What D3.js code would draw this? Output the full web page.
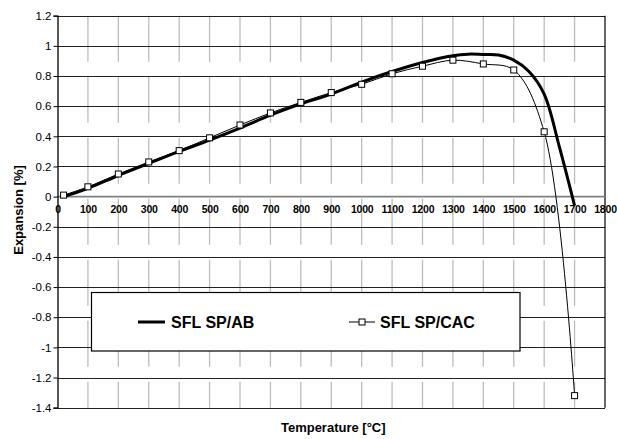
<!DOCTYPE html>
<html><head><meta charset="utf-8">
<script src="https://cdn.jsdelivr.net/npm/d3@7"></script>
<style>body{margin:0;background:#fff} svg{display:block;font-family:"Liberation Sans",Arial,sans-serif}</style>
</head><body><svg id="c" width="617" height="439"></svg>
<script>
const temperaturesAB = [20,100,200,300,400,500,600,700,800,900,1000,1100,1200,1300,1350,1400,1450,1500,1550,1600,1650,1700];
const expansionAB    = [0.0,0.055,0.14,0.22,0.30,0.375,0.455,0.54,0.615,0.68,0.76,0.83,0.89,0.935,0.945,0.943,0.94,0.905,0.83,0.68,0.33,-0.06];
const temperaturesCAC = [20,100,200,300,400,500,600,700,800,900,1000,1100,1200,1300,1400,1500,1600,1700];
const expansionCAC    = [0.01,0.065,0.15,0.23,0.305,0.39,0.475,0.555,0.625,0.69,0.745,0.815,0.865,0.905,0.88,0.84,0.43,-1.32];
const xTickValues = [0,100,200,300,400,500,600,700,800,900,1000,1100,1200,1300,1400,1500,1600,1700,1800];
const yTickValues = [1.2,1,0.8,0.6,0.4,0.2,0,-0.2,-0.4,-0.6,-0.8,-1,-1.2,-1.4];
const seriesNames = ["SFL SP/AB","SFL SP/CAC"];
const xTitle = "Temperature [°C]";
const yTitle = "Expansion [%]";

const FONT = "'Liberation Sans', Arial, sans-serif";
const svg = d3.select("#c");
const L = 57.5, R = 605, T = 15.7, B = 407.7;
const x = d3.scaleLinear().domain([0,1800]).range([L,R]);
const y = d3.scaleLinear().domain([-1.4,1.2]).range([B,T]);

// vertical dashed gridlines
svg.append("g").selectAll("line").data(xTickValues.filter(d=>d>0&&d<1800)).join("line")
  .attr("x1",d=>x(d)).attr("x2",d=>x(d)).attr("y1",T).attr("y2",B)
  .attr("stroke","#bdbdbd").attr("stroke-width",1.3).attr("stroke-dasharray","46,15");

// horizontal gridlines
svg.append("g").selectAll("line").data(yTickValues.filter(d=>d!==0)).join("line")
  .attr("x1",L).attr("x2",R).attr("y1",d=>Math.round(y(d))+0.5).attr("y2",d=>Math.round(y(d))+0.5)
  .attr("stroke","#222").attr("stroke-width",1);

// right border
svg.append("line").attr("x1",R).attr("x2",R).attr("y1",T).attr("y2",B).attr("stroke","#000").attr("stroke-width",1.2);

// zero line (x axis)
svg.append("line").attr("x1",L).attr("x2",R).attr("y1",y(0)).attr("y2",y(0))
  .attr("stroke","#808080").attr("stroke-width",1.6);

// y axis
const yAxis = d3.axisLeft(y).tickValues(yTickValues).tickSize(4).tickPadding(2)
  .tickFormat(d=>String(+d.toFixed(1)));
const gy = svg.append("g").attr("transform",`translate(${L},0)`).call(yAxis);
gy.select(".domain").attr("stroke","#000").attr("stroke-width",1.3);
gy.selectAll(".tick line").attr("stroke","#000");
gy.selectAll("text").attr("font-size","11.5px").attr("fill","#000").attr("font-family",FONT);

// x tick labels along zero line
const xAxis = d3.axisBottom(x).tickValues(xTickValues).tickSize(0).tickPadding(9).tickFormat(d3.format("d"));
const gx = svg.append("g").attr("transform",`translate(0,${y(0)})`).call(xAxis);
gx.select(".domain").remove();
gx.selectAll("text").attr("font-size","10.5px").attr("font-weight","bold").attr("fill","#000")
  .attr("font-family",FONT).attr("letter-spacing","-0.2px");

// series
const dataAB = temperaturesAB.map((t,i)=>[t,expansionAB[i]]);
const dataCAC = temperaturesCAC.map((t,i)=>[t,expansionCAC[i]]);
const line = d3.line().x(d=>x(d[0])).y(d=>y(d[1])).curve(d3.curveCatmullRom.alpha(0.5));

svg.append("path").datum(dataCAC).attr("d",line).attr("fill","none").attr("stroke","#000").attr("stroke-width",1);
svg.append("path").datum(dataAB).attr("d",line).attr("fill","none").attr("stroke","#000").attr("stroke-width",3);
svg.append("g").selectAll("rect").data(dataCAC).join("rect")
  .attr("x",d=>x(d[0])-3).attr("y",d=>y(d[1])-3).attr("width",6).attr("height",6)
  .attr("fill","#fff").attr("stroke","#000").attr("stroke-width",1);

// axis titles
svg.append("text").attr("x",(L+R)/2+2).attr("y",432).attr("text-anchor","middle").attr("font-family",FONT)
  .attr("font-size","13px").attr("font-weight","bold").text(xTitle);
svg.append("text").attr("transform","translate(23,210) rotate(-90)").attr("text-anchor","middle").attr("font-family",FONT)
  .attr("font-size","13px").attr("font-weight","bold").text(yTitle);

// legend
const lg = svg.append("g");
lg.append("rect").attr("x",91.5).attr("y",292.5).attr("width",428.5).attr("height",58.5)
  .attr("fill","#fff").attr("stroke","#000").attr("stroke-width",1.2);
lg.append("line").attr("x1",138).attr("x2",165).attr("y1",322).attr("y2",322).attr("stroke","#000").attr("stroke-width",3);
lg.append("text").attr("x",171).attr("y",327.5).attr("font-family",FONT).attr("font-size","16px").attr("font-weight","bold").text(seriesNames[0]);
lg.append("line").attr("x1",349).attr("x2",375).attr("y1",322).attr("y2",322).attr("stroke","#000").attr("stroke-width",1);
lg.append("rect").attr("x",359).attr("y",319).attr("width",6).attr("height",6).attr("fill","#fff").attr("stroke","#000");
lg.append("text").attr("x",380).attr("y",327.5).attr("font-family",FONT).attr("font-size","16px").attr("font-weight","bold").text(seriesNames[1]);
</script></body></html>
